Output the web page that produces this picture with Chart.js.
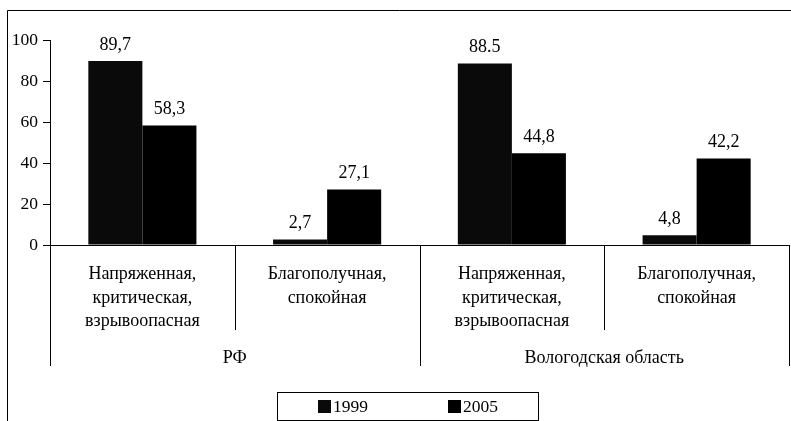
<!DOCTYPE html>
<html>
<head>
<meta charset="utf-8">
<script src="https://cdn.jsdelivr.net/npm/chart.js@4.4.1/dist/chart.umd.min.js"></script>
<style>
html,body{margin:0;padding:0;background:#fff;}
#wrap{width:791px;height:421px;position:relative;}
</style>
</head>
<body>
<div id="wrap"><canvas id="c" width="791" height="421"></canvas></div>
<script>
// ---- data ----
const categories = [
  ['Напряженная,', 'критическая,', 'взрывоопасная'],
  ['Благополучная,', 'спокойная'],
  ['Напряженная,', 'критическая,', 'взрывоопасная'],
  ['Благополучная,', 'спокойная']
];
const groups = ['РФ', 'Вологодская область'];
const seriesNames = ['1999', '2005'];
const values1999 = [89.7, 2.7, 88.5, 4.8];
const values2005 = [58.3, 27.1, 44.8, 42.2];
const valueLabels1999 = ['89,7', '2,7', '88.5', '4,8'];
const valueLabels2005 = ['58,3', '27,1', '44,8', '42,2'];
const yTicks = [0, 20, 40, 60, 80, 100];

const FONT = '"Liberation Serif", "Times New Roman", serif';
const FS = 18;
const FS_TICK = 17.5;

const framePlugin = {
  id: 'frame',
  beforeDraw(chart) {
    const ctx = chart.ctx;
    ctx.save();
    ctx.fillStyle = '#fff';
    ctx.fillRect(0, 0, chart.width, chart.height);
    ctx.strokeStyle = '#000';
    ctx.lineWidth = 1;
    ctx.beginPath();
    ctx.moveTo(7.5, chart.height);
    ctx.lineTo(7.5, 10.5);
    ctx.lineTo(chart.width, 10.5);
    ctx.stroke();
    ctx.restore();
  },
  afterDraw(chart) {
    const ctx = chart.ctx;
    const x = chart.scales.x;
    const ca = chart.chartArea;
    const n = categories.length;
    const step = (ca.right - ca.left) / n;
    ctx.save();
    ctx.strokeStyle = '#000';
    ctx.lineWidth = 1;
    // separators between categories
    for (let i = 0; i <= n; i++) {
      const px = Math.round(x.getPixelForValue(i) - step / 2) + 0.5;
      const long = (i % 2 === 0);
      const bottom = long ? 366 : 330;
      ctx.beginPath();
      ctx.moveTo(px, ca.bottom);
      ctx.lineTo(px, bottom);
      ctx.stroke();
    }
    // value labels
    ctx.fillStyle = '#000';
    ctx.font = FS + 'px ' + FONT;
    ctx.textAlign = 'center';
    ctx.textBaseline = 'middle';
    const lbls = [valueLabels1999, valueLabels2005];
    chart.data.datasets.forEach((ds, di) => {
      const meta = chart.getDatasetMeta(di);
      meta.data.forEach((bar, i) => {
        ctx.fillText(lbls[di][i], bar.x, bar.y - 16);
      });
    });
    // legend
    const lx1 = 277.5, lx2 = 538.5, ly1 = 392.5, ly2 = 420.5;
    ctx.strokeRect(lx1, ly1, lx2 - lx1, ly2 - ly1);
    const itemX = [318, 448];
    const cy = 406;
    ctx.textAlign = 'left';
    ctx.font = '17.5px ' + FONT;
    chart.data.datasets.forEach((ds, di) => {
      ctx.fillStyle = ds.backgroundColor;
      ctx.fillRect(itemX[di], cy - 6, 13, 13);
      ctx.fillStyle = '#000';
      ctx.fillText(ds.label, itemX[di] + 15, cy + 1);
    });
    ctx.restore();
  }
};

new Chart(document.getElementById('c'), {
  type: 'bar',
  data: {
    labels: categories,
    datasets: [
      { label: seriesNames[0], data: values1999, backgroundColor: '#0a0a0a', borderWidth: 0 },
      { label: seriesNames[1], data: values2005, backgroundColor: '#000000', borderWidth: 0 }
    ]
  },
  options: {
    responsive: false,
    animation: false,
    devicePixelRatio: 1,
    layout: { padding: { top: 40, right: 2, left: 0, bottom: 40 } },
    plugins: {
      legend: { display: false },
      tooltip: { enabled: false }
    },
    datasets: { bar: { categoryPercentage: 0.585, barPercentage: 1.0 } },
    scales: {
      y: {
        min: 0, max: 100,
        afterBuildTicks(s) { s.ticks = yTicks.map(v => ({ value: v })); },
        afterFit(s) { s.width = 50; },
        grid: { drawOnChartArea: false, drawTicks: true, tickLength: 7, color: '#000' },
        border: { display: true, color: '#000', width: 1 },
        ticks: { color: '#000', font: { family: FONT, size: FS_TICK }, padding: 5 }
      },
      x: {
        position: 'bottom',
        afterFit(s) { s.height = 95; },
        grid: { display: false, drawTicks: false },
        border: { display: true, color: '#000', width: 1 },
        ticks: {
          color: '#000', font: { family: FONT, size: FS, lineHeight: 1.3 },
          padding: 18, maxRotation: 0, autoSkip: false
        }
      },
      x2: {
        type: 'category',
        position: 'bottom',
        labels: groups,
        offset: true,
        afterFit(s) { s.height = 41; },
        grid: { display: false, drawTicks: false },
        border: { display: false },
        ticks: { color: '#000', font: { family: FONT, size: FS }, padding: 7, maxRotation: 0, autoSkip: false }
      }
    }
  },
  plugins: [framePlugin]
});
</script>
</body>
</html>
